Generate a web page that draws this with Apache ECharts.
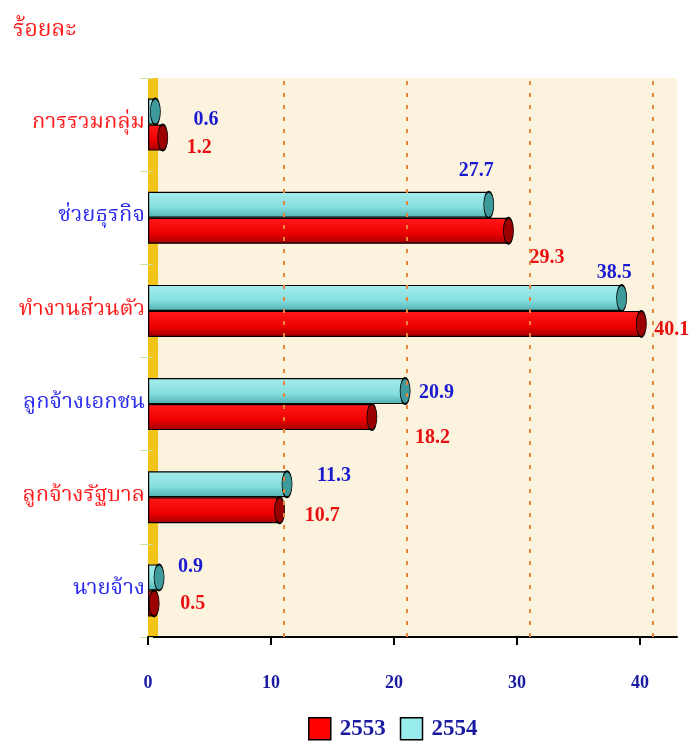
<!DOCTYPE html>
<html>
<head>
<meta charset="utf-8">
<script src="https://cdn.jsdelivr.net/npm/echarts@6/dist/echarts.min.js"></script>
<style>
  html, body { margin: 0; padding: 0; background: #fff; }
  #chart { width: 700px; height: 744px; }
</style>
</head>
<body>
<div id="chart"></div>
<script>
// categories bottom -> top
const categories = ['นายจ้าง', 'ลูกจ้างรัฐบาล', 'ลูกจ้างเอกชน', 'ทำงานส่วนตัว', 'ช่วยธุรกิจ', 'การรวมกลุ่ม']
const values2553 = [0.5, 10.7, 18.2, 40.1, 29.3, 1.2]
const values2554 = [0.9, 11.3, 20.9, 38.5, 27.7, 0.6]
const tickValues = [0, 10, 20, 30, 40]

const thaiFont = '"Noto Serif Thai", "Noto Sans Thai", "Tlwg Typo", Norasi, Garuda, Loma, "Liberation Serif", serif'
const numFont = '"Liberation Serif", "Times New Roman", serif'

// label nudges (px) so values sit like in the original
const offsets2553 = [[21, 0], [20, 6], [38, 21], [8, 6], [16, 27], [19, 10]]
const offsets2554 = [[14, -11], [25, -8], [9, 2], [-30, -25], [-35, -34], [33, 8]]

const chartDom = document.getElementById('chart')
const myChart = echarts.init(chartDom)

const redFill = new echarts.graphic.LinearGradient(0, 0, 0, 1, [
  { offset: 0, color: '#ff1a1a' },
  { offset: 0.6, color: '#ee0000' },
  { offset: 1, color: '#a00000' }
])
const cyanFill = new echarts.graphic.LinearGradient(0, 0, 0, 1, [
  { offset: 0, color: '#a6ecec' },
  { offset: 0.6, color: '#86dede' },
  { offset: 1, color: '#4fb0b0' }
])

function barData(vals, offs, color) {
  return vals.map((v, i) => ({
    value: v,
    label: { offset: offs[i], color: color }
  }))
}

const option = {
  backgroundColor: '#fff',
  animation: false,
  title: {
    text: 'ร้อยละ',
    left: 8,
    top: 16,
    textStyle: { fontFamily: thaiFont, fontSize: 23, fontWeight: 'normal', color: '#ff1a1a' }
  },
  legend: {
    top: 712,
    left: 303,
    itemWidth: 22,
    itemHeight: 22,
    itemGap: 14,
    icon: 'rect',
    data: [
      { name: '2553', itemStyle: { color: '#ff0000', borderColor: '#000', borderWidth: 1.5 } },
      { name: '2554', itemStyle: { color: '#99ecec', borderColor: '#000', borderWidth: 1.5 } }
    ],
    textStyle: { fontFamily: numFont, fontSize: 23, fontWeight: 'bold', color: '#1a1aa0', padding: [0, 0, 0, 4] }
  },
  grid: {
    left: 148,
    right: 23,
    top: 78,
    bottom: 107,
    show: true,
    backgroundColor: '#fcf3df',
    borderWidth: 0
  },
  xAxis: {
    type: 'value',
    min: 0,
    max: 43,
    interval: 10,
    splitLine: { show: false },
    axisLine: { show: true, lineStyle: { color: '#000', width: 2 } },
    axisTick: { show: true, length: 8, customValues: tickValues, lineStyle: { color: '#000', width: 2 } },
    axisLabel: {
      customValues: tickValues,
      margin: 37,
      fontFamily: numFont,
      fontSize: 18,
      fontWeight: 'bold',
      color: '#1a1aa0'
    }
  },
  yAxis: {
    type: 'category',
    data: categories,
    offset: -5,
    axisLine: { show: true, lineStyle: { color: '#f2c418', width: 10, cap: 'butt' } },
    axisTick: { show: true, length: 13, lineStyle: { color: '#c4e4a8', width: 1 } },
    axisLabel: {
      margin: 8,
      formatter: function(v, i) {
        return '{' + (i % 2 === 0 ? 'b' : 'r') + '|' + v + '}'
      },
      rich: {
        b: { fontFamily: thaiFont, fontSize: 22, color: '#2a2aee' },
        r: { fontFamily: thaiFont, fontSize: 22, color: '#ff1a1a' }
      }
    }
  },
  series: [
    {
      // first bar series is drawn on the upper half of each band
      name: '2554',
      type: 'bar',
      barWidth: 26,
      barGap: '0%',
      z: 3,
      itemStyle: { color: cyanFill, borderColor: '#000', borderWidth: 1.2 },
      label: {
        show: true,
        position: 'right',
        fontFamily: numFont,
        fontSize: 20,
        fontWeight: 'bold'
      },
      data: barData(values2554, offsets2554, '#1a1ad0'),
      markLine: {
        silent: true,
        symbol: 'none',
        label: { show: false },
        lineStyle: { color: '#e8843c', type: [4, 8], width: 2 },
        // gridlines sit on the back wall, shifted by the 3D depth
        data: tickValues.slice(1).map(v => ({ xAxis: v + 1 }))
      }
    },
    {
      name: '2553',
      type: 'bar',
      barWidth: 26,
      barGap: '0%',
      z: 3,
      itemStyle: { color: redFill, borderColor: '#000', borderWidth: 1.2 },
      label: {
        show: true,
        position: 'right',
        fontFamily: numFont,
        fontSize: 20,
        fontWeight: 'bold'
      },
      data: barData(values2553, offsets2553, '#e81010')
    },
    {
      name: 'cap2553',
      type: 'scatter',
      symbol: 'circle',
      symbolSize: [10, 26],
      symbolOffset: [0, 13],
      z: 4,
      silent: true,
      itemStyle: { color: '#9a0000', borderColor: '#000', borderWidth: 1.2, opacity: 1 },
      data: values2553.map((v, i) => [v, i])
    },
    {
      name: 'cap2554',
      type: 'scatter',
      symbol: 'circle',
      symbolSize: [10, 26],
      symbolOffset: [0, -13],
      z: 4,
      silent: true,
      itemStyle: { color: '#3f9a9c', borderColor: '#000', borderWidth: 1.2, opacity: 1 },
      data: values2554.map((v, i) => [v, i])
    }
  ]
}
myChart && myChart.setOption(option)
</script>
</body>
</html>
